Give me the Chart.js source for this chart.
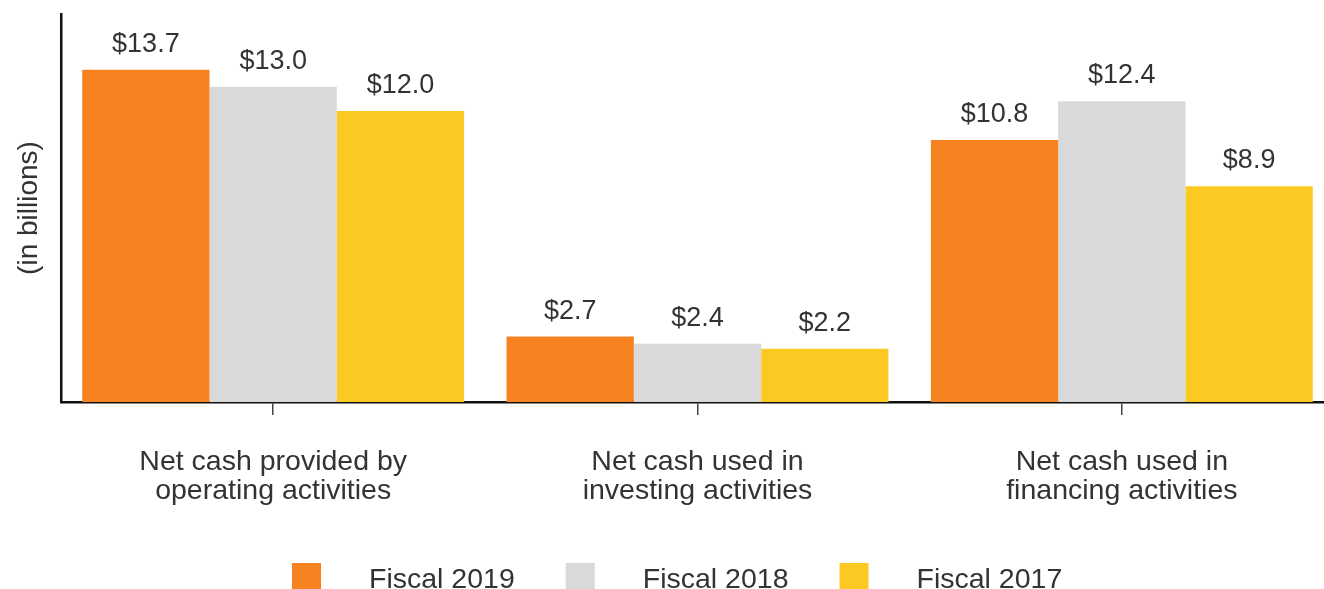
<!DOCTYPE html>
<html>
<head>
<meta charset="utf-8">
<script src="https://cdn.jsdelivr.net/npm/chart.js@4.4.1/dist/chart.umd.min.js"></script>
<style>
  html, body { margin: 0; padding: 0; background: #fff; overflow: hidden; }
  #wrap { width: 1334px; height: 589px; }
</style>
</head>
<body>
<div id="wrap"><canvas id="myChart" width="1334" height="589"></canvas></div>
<script>
const categories = [
    ['Net cash provided by', 'operating activities'],
    ['Net cash used in', 'investing activities'],
    ['Net cash used in', 'financing activities']
];
const seriesNames = ['Fiscal 2019', 'Fiscal 2018', 'Fiscal 2017'];
const fiscal2019 = [13.7, 2.7, 10.8];
const fiscal2018 = [13.0, 2.4, 12.4];
const fiscal2017 = [12.0, 2.2, 8.9];
const yMax = 16;

const colors = ['#F68220', '#D9D9D9', '#FCC923'];
const textColor = '#333333';
const fontFamily = '"Liberation Sans", Arial, sans-serif';

// value labels above each bar
const valueLabels = {
    id: 'valueLabels',
    afterDatasetsDraw(chart) {
        const ctx = chart.ctx;
        ctx.save();
        ctx.font = '27px ' + fontFamily;
        ctx.fillStyle = textColor;
        ctx.textAlign = 'center';
        ctx.textBaseline = 'alphabetic';
        chart.data.datasets.forEach((ds, i) => {
            chart.getDatasetMeta(i).data.forEach((bar, j) => {
                ctx.fillText('$' + ds.data[j].toFixed(1), bar.x, bar.y - 18);
            });
        });
        ctx.restore();
    }
};

// legend along the bottom edge
const bottomLegend = {
    id: 'bottomLegend',
    afterDraw(chart) {
        const ctx = chart.ctx;
        ctx.save();
        ctx.font = '28.5px ' + fontFamily;
        ctx.textBaseline = 'alphabetic';
        ctx.textAlign = 'left';
        let x = 292;
        const top = 563;
        chart.data.datasets.forEach((ds) => {
            ctx.fillStyle = ds.backgroundColor;
            ctx.fillRect(x, top, 29, 30);
            x += 29 + 48;
            ctx.fillStyle = textColor;
            ctx.fillText(ds.label, x, 588);
            x += ctx.measureText(ds.label).width + 51;
        });
        ctx.restore();
    }
};

const ctx = document.getElementById('myChart').getContext('2d');
new Chart(ctx, {
    type: 'bar',
    data: {
        labels: categories,
        datasets: [
            { label: seriesNames[0], data: fiscal2019, backgroundColor: colors[0] },
            { label: seriesNames[1], data: fiscal2018, backgroundColor: colors[1] },
            { label: seriesNames[2], data: fiscal2017, backgroundColor: colors[2] }
        ]
    },
    options: {
        responsive: false,
        animation: false,
        layout: { padding: { top: 14, left: 0, right: 0, bottom: 0 } },
        datasets: { bar: { categoryPercentage: 0.9, barPercentage: 1.0 } },
        scales: {
            x: {
                grid: {
                    display: true,
                    drawOnChartArea: false,
                    drawTicks: true,
                    tickLength: 13,
                    offset: false,
                    color: '#444',
                    lineWidth: 1.5
                },
                border: { display: true, color: '#111', width: 2.5 },
                ticks: {
                    color: textColor,
                    padding: 33,
                    maxRotation: 0,
                    autoSkip: false,
                    font: { family: fontFamily, size: 28.5, lineHeight: 1.02 }
                },
                afterFit(scale) { scale.height = 187; }
            },
            y: {
                min: 0,
                max: yMax,
                grid: { display: false },
                border: { display: true, color: '#111', width: 2.5 },
                ticks: { display: false },
                title: {
                    display: true,
                    text: '(in billions)',
                    color: textColor,
                    padding: { top: 12, bottom: 0 },
                    font: { family: fontFamily, size: 28 }
                },
                afterFit(scale) { scale.width = 61; }
            }
        },
        plugins: {
            legend: { display: false },
            tooltip: { enabled: false }
        }
    },
    plugins: [valueLabels, bottomLegend]
});
</script>
</body>
</html>
